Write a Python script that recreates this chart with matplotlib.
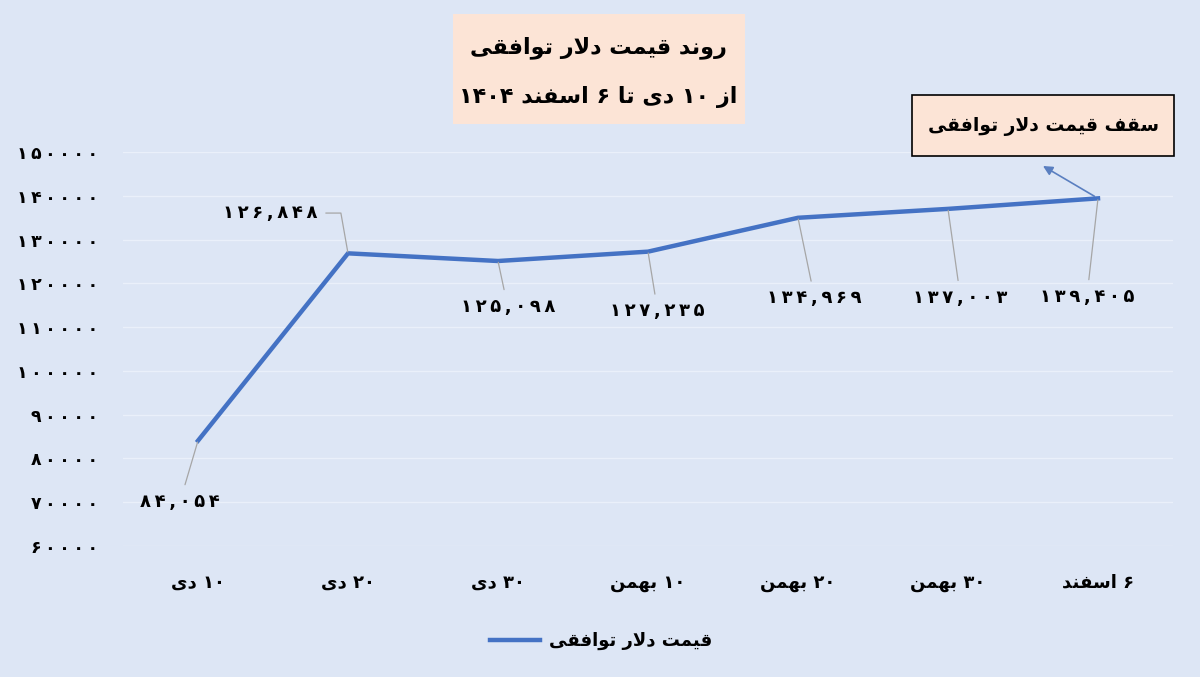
import matplotlib
matplotlib.use('Agg')
import matplotlib.pyplot as plt
from matplotlib.patches import FancyBboxPatch

# data
dates = ['۱۰ دی', '۲۰ دی', '۳۰ دی', '۱۰ بهمن', '۲۰ بهمن', '۳۰ بهمن', '۶ اسفند']
prices = [84054, 126848, 125098, 127235, 134969, 137003, 139405]
yticks = [60000, 70000, 80000, 90000, 100000, 110000, 120000, 130000, 140000, 150000]
title1 = 'روند قیمت دلار توافقی'
title2 = 'از ۱۰ دی تا ۶ اسفند ۱۴۰۴'
series_name = 'قیمت دلار توافقی'
cap_text = 'سقف قیمت دلار توافقی'

# label offsets (points) from each point
label_off = [(-13, -44), (-56, 29), (7, -33), (7, -43), (12, -58), (9, -64), (-8, -71)]

# minimal Persian shaping (matplotlib has no text shaping)
FORMS = {
    'ا': ('\uFE8D', '\uFE8E', None, None),
    'ب': ('\uFE8F', '\uFE90', '\uFE91', '\uFE92'),
    'ت': ('\uFE95', '\uFE96', '\uFE97', '\uFE98'),
    'د': ('\uFEA9', '\uFEAA', None, None),
    'ر': ('\uFEAD', '\uFEAE', None, None),
    'ز': ('\uFEAF', '\uFEB0', None, None),
    'س': ('\uFEB1', '\uFEB2', '\uFEB3', '\uFEB4'),
    'ف': ('\uFED1', '\uFED2', '\uFED3', '\uFED4'),
    'ق': ('\uFED5', '\uFED6', '\uFED7', '\uFED8'),
    'ل': ('\uFEDD', '\uFEDE', '\uFEDF', '\uFEE0'),
    'م': ('\uFEE1', '\uFEE2', '\uFEE3', '\uFEE4'),
    'ن': ('\uFEE5', '\uFEE6', '\uFEE7', '\uFEE8'),
    'ه': ('\uFEE9', '\uFEEA', '\uFEEB', '\uFEEC'),
    'و': ('\uFEED', '\uFEEE', None, None),
    'ی': ('\uFBFC', '\uFBFD', '\uFBFE', '\uFBFF'),
}
FA_DIG = str.maketrans('0123456789', '۰۱۲۳۴۵۶۷۸۹')


def dual(c):
    return c in FORMS and FORMS[c][2] is not None


def shape_word(w):
    res = []
    i = 0
    n = len(w)
    while i < n:
        c = w[i]
        prev = w[i - 1] if i > 0 else None
        jp = prev is not None and dual(prev)
        if c == 'ل' and i + 1 < n and w[i + 1] == 'ا':
            res.append('\uFEFC' if jp else '\uFEFB')
            i += 2
            continue
        if c not in FORMS:
            res.append(c)
            i += 1
            continue
        nxt = w[i + 1] if i + 1 < n else None
        jn = nxt is not None and nxt in FORMS and dual(c)
        iso, fin, ini, med = FORMS[c]
        if jp and jn:
            res.append(med)
        elif jp:
            res.append(fin)
        elif jn:
            res.append(ini)
        else:
            res.append(iso)
        i += 1
    return ''.join(reversed(res))


def fa(text, rtl=True):
    words = []
    for w in text.split(' '):
        if any(ch in FORMS for ch in w):
            words.append(shape_word(w))
        else:
            words.append(w.translate(FA_DIG))
    if rtl:
        words = words[::-1]
    return ' '.join(words)


def num(v, comma=False):
    s = format(v, ',' if comma else 'd').translate(FA_DIG)
    return '\u2009'.join(s)  # wide-set digits like the original


bg = '#dde6f5'
line_c = '#4472c4'
peach = '#fce4d6'

plt.rcParams['font.family'] = ['DejaVu Sans']
fig = plt.figure(figsize=(12, 6.77), dpi=100)
fig.patch.set_facecolor(bg)
ax = fig.add_axes([0.1025, 0.1935, 0.875, 0.582])
ax.set_facecolor(bg)

x = list(range(len(prices)))
ax.plot(x, prices, color=line_c, linewidth=3.2, solid_joinstyle='miter')

ax.set_xlim(-0.5, 6.5)
ax.set_ylim(60000, 150000)
ax.set_yticks(yticks)
ax.set_yticklabels([num(v) for v in yticks], fontsize=12.5, fontweight='bold')
ax.set_xticks(x)
ax.set_xticklabels([fa(d) for d in dates], fontsize=13, fontweight='bold')
ax.tick_params(length=0)
ax.tick_params(axis='y', pad=18)
ax.tick_params(axis='x', pad=20)
ax.grid(axis='y', color='#eaf0fa', linewidth=1)
ax.set_axisbelow(True)
for s in ax.spines.values():
    s.set_visible(False)

# data labels with leader lines
for i, v in enumerate(prices):
    dx, dy = label_off[i]
    conn = 'angle,angleA=0,angleB=100,rad=0' if dy > 0 else 'arc3'
    ax.annotate(num(v, comma=True), xy=(i, v), xytext=(dx, dy), textcoords='offset points',
                ha='center', va='center', fontsize=13, fontweight='bold',
                arrowprops=dict(arrowstyle='-', color='#a6a6a6', lw=0.9,
                                shrinkA=4, shrinkB=1, connectionstyle=conn))

# title box
fig.patches.append(FancyBboxPatch((453 / 1200, 1 - 124 / 677), 292 / 1200, 110 / 677,
                                  boxstyle='square,pad=0', transform=fig.transFigure,
                                  facecolor=peach, edgecolor='none'))
fig.text(598 / 1200, 1 - 48 / 677, fa(title1), ha='center', va='center',
         fontsize=16, fontweight='bold')
fig.text(598 / 1200, 1 - 97 / 677, fa(title2), ha='center', va='center',
         fontsize=16, fontweight='bold')

# cap annotation
fig.patches.append(FancyBboxPatch((912 / 1200, 1 - 156 / 677), 262 / 1200, 61 / 677,
                                  boxstyle='square,pad=0', transform=fig.transFigure,
                                  facecolor=peach, edgecolor='black', linewidth=1.2))
fig.text(1044 / 1200, 1 - 127 / 677, fa(cap_text), ha='center', va='center',
         fontsize=13.5, fontweight='bold')
ax.annotate('', xy=(1043 / 1200, 1 - 166 / 677), xycoords='figure fraction',
            xytext=(6, prices[-1]), textcoords='data',
            arrowprops=dict(arrowstyle='-|>', color='#5a7fc0', lw=1.2,
                            mutation_scale=14, shrinkA=3, shrinkB=0))

# legend
fig.legend(handles=ax.lines, labels=[fa(series_name)], loc='center',
           bbox_to_anchor=(601 / 1200, 1 - 641 / 677), frameon=False,
           prop={'size': 13, 'weight': 'bold'}, handlelength=2.8, handletextpad=0.5)

fig.savefig('out.png', dpi=100, facecolor=bg)
